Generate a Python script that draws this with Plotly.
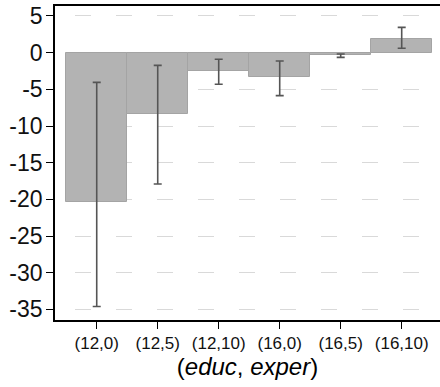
import plotly.graph_objects as go

# Cells of the (educ, exper) grid and the estimated effect at each one
categories = ["(12,0)", "(12,5)", "(12,10)", "(16,0)", "(16,5)", "(16,10)"]
effects = [-20.4, -8.3, -2.45, -3.35, -0.3, 1.86]
ci_upper = [-4.05, -1.73, -0.9, -1.14, -0.18, 3.45]
ci_lower = [-34.6, -17.9, -4.3, -5.86, -0.64, 0.59]

y_ticks = [5, 0, -5, -10, -15, -20, -25, -30, -35]
y_tick_text = [str(v) for v in y_ticks]

err_plus = [u - e for u, e in zip(ci_upper, effects)]
err_minus = [e - l for e, l in zip(effects, ci_lower)]

font_family = "Liberation Sans, Arial, sans-serif"

fig = go.Figure(
    go.Bar(
        x=categories,
        y=effects,
        marker=dict(color="#b3b3b3", line=dict(color="#a4a4a4", width=1)),
        error_y=dict(
            type="data",
            symmetric=False,
            array=err_plus,
            arrayminus=err_minus,
            color="#555555",
            thickness=1.6,
            width=4,
        ),
    )
)

fig.update_layout(
    width=440,
    height=387,
    margin=dict(l=55, r=0, t=6, b=67),
    plot_bgcolor="white",
    paper_bgcolor="white",
    bargap=0,
    showlegend=False,
    font=dict(family=font_family, color="black"),
)

fig.update_xaxes(
    type="category",
    range=[-0.684, 5.628],
    showline=True,
    linecolor="black",
    linewidth=1.6,
    mirror=True,
    ticks="outside",
    ticklen=7,
    tickwidth=1.4,
    tickcolor="black",
    tickfont=dict(size=17, color="#111"),
    showgrid=False,
    title=dict(
        text="(<i>educ</i>, <i>exper</i>)",
        font=dict(size=24, color="black"),
        standoff=4,
    ),
)

fig.update_yaxes(
    range=[-36.45, 6.36],
    tickmode="array",
    tickvals=y_ticks,
    ticktext=y_tick_text,
    showline=True,
    linecolor="black",
    linewidth=1.6,
    ticks="outside",
    ticklen=7,
    tickwidth=1.4,
    tickcolor="black",
    tickfont=dict(size=23, color="#111"),
    ticklabelstandoff=-1,
    showgrid=True,
    gridcolor="#d9d9d9",
    gridwidth=1,
    griddash="0px,20px,16px,5px",
    zeroline=False,
)

fig.write_html("out.html")
